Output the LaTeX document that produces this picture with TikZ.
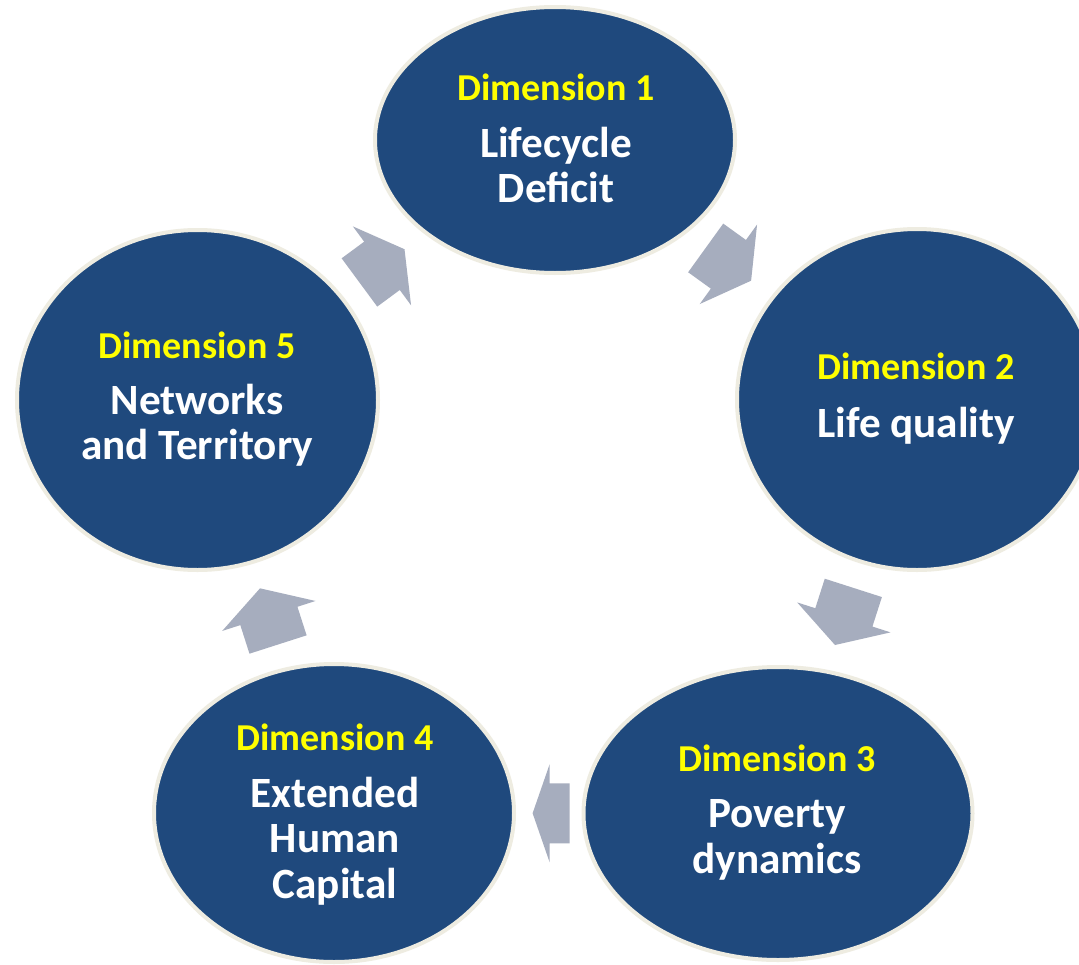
\documentclass[tikz,border=0pt]{standalone}
\usepackage{fontspec}
\setmainfont{Carlito}
\usetikzlibrary{shapes.geometric,calc}
\definecolor{dimblue}{RGB}{31,73,125}
\definecolor{rimtan}{RGB}{238,236,225}
\definecolor{arrowgrey}{RGB}{166,173,190}
\definecolor{dimyellow}{RGB}{255,255,0}
% #1 center, #2 angle, #3 total length, #4 head length
\newcommand{\blkarrow}[4]{%
  \fill[arrowgrey, shift={(#1)}, rotate=#2]
    ({-#3/2},-30) -- ({#3/2-#4},-30) -- ({#3/2-#4},-49) -- ({#3/2},0)
    -- ({#3/2-#4},49) -- ({#3/2-#4},30) -- ({-#3/2},30) -- cycle;}
\tikzset{
  dimell/.style={ellipse, fill=dimblue, draw=rimtan, line width=4pt, inner sep=0pt},
  dimlabel/.style={anchor=base, text=dimyellow, inner sep=0pt,
    font=\fontsize{38}{45}\selectfont\bfseries},
  dimtext/.style={anchor=base, text=white, inner sep=0pt,
    font=\fontsize{43.2}{50}\selectfont\bfseries},
}
\begin{document}
\begin{tikzpicture}[x=1pt,y=-1pt]
\useasboundingbox (0,0) rectangle (1079,964);
\fill[white] (0,0) rectangle (1079,964);
% ellipses
\node[dimell, minimum width=360pt, minimum height=266pt] (d1) at (555,140) {};
\node[dimell, minimum width=360pt, minimum height=341pt] (d2) at (917,399.5) {};
\node[dimell, minimum width=389pt, minimum height=293pt] (d3) at (778,813.5) {};
\node[dimell, minimum width=360pt, minimum height=298pt] (d4) at (334,813) {};
\node[dimell, minimum width=361pt, minimum height=340pt] (d5) at (197.5,400) {};
% arrows
\coordinate (a1) at ($(d5)!0.516!(d1)$);
\coordinate (a2) at ($(d1)!0.479!(d2)$);
\coordinate (a3) at ($(d2)!0.524!(d3)$);
\coordinate (a4) at ($(d3)!0.511!(d4)$);
\coordinate (a5) at ($(d4)!0.476!(d5)$);
\blkarrow{a1}{36.4}{56}{28}
\blkarrow{a2}{-35.8}{56}{28}
\blkarrow{a3}{-107.8}{60}{29}
\blkarrow{a4}{180}{37}{17}
\blkarrow{a5}{107.8}{59}{29}
% texts
\node[dimlabel] (d1l) at (556,100) {Dimension 1};
\node[dimtext] (d1a) at (556,157) {Lifecycle};
\node[dimtext] (d1b) at (556,202.5) {Deficit};
\node[dimlabel] (d2l) at (916,379.5) {Dimension 2};
\node[dimtext] (d2a) at (916,437.5) {Life quality};
\node[dimlabel] (d3l) at (777,771) {Dimension 3};
\node[dimtext] (d3a) at (777,827) {Poverty};
\node[dimtext] (d3b) at (777,873) {dynamics};
\node[dimlabel] (d4l) at (335,750) {Dimension 4};
\node[dimtext] (d4a) at (335,807) {Extended};
\node[dimtext] (d4b) at (335,852) {Human};
\node[dimtext] (d4c) at (335,898) {Capital};
\node[dimlabel] (d5l) at (197,358.5) {Dimension 5};
\node[dimtext] (d5a) at (197,414) {Networks};
\node[dimtext] (d5b) at (197,459.5) {and Territory};
\end{tikzpicture}
\end{document}
